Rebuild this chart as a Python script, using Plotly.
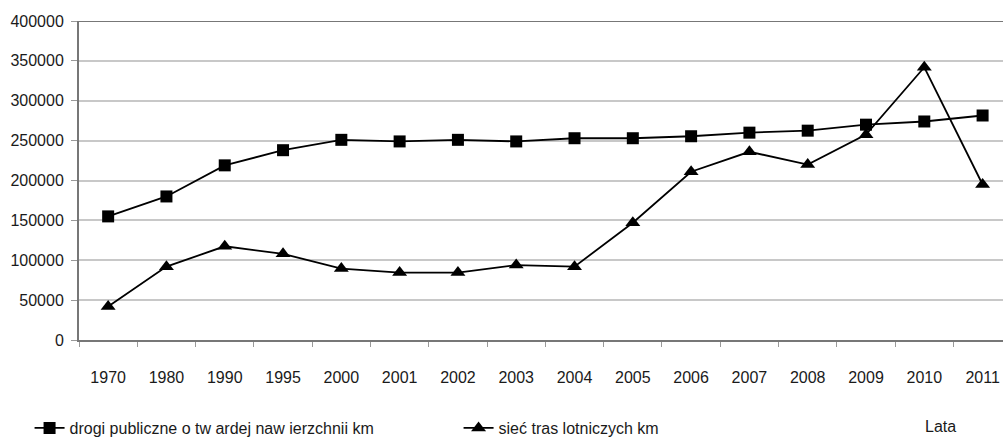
import plotly.graph_objects as go

years = ["1970", "1980", "1990", "1995", "2000", "2001", "2002", "2003",
         "2004", "2005", "2006", "2007", "2008", "2009", "2010", "2011"]

drogi = [155000, 180000, 219000, 238000, 251000, 249000, 251000, 249000,
         253000, 253000, 255500, 260000, 262500, 270000, 274000, 281500]

lotnicze = [42000, 92000, 117500, 108000, 89500, 84500, 84500, 94000,
            92000, 147000, 211000, 236000, 220000, 257500, 342000, 195000]

FONT = "Liberation Sans, Arial, sans-serif"

fig = go.Figure()

fig.add_trace(go.Scatter(
    x=years, y=drogi, mode="lines+markers",
    name="drogi publiczne o tw ardej naw ierzchnii km",
    line=dict(color="black", width=1.8),
    marker=dict(symbol="square", size=12, color="black"),
))
fig.add_trace(go.Scatter(
    x=years, y=lotnicze, mode="lines+markers",
    name="sieć tras lotniczych km",
    line=dict(color="black", width=1.8),
    marker=dict(symbol="triangle-up", size=13, color="black"),
))

fig.update_layout(
    width=1003, height=445,
    margin=dict(l=79, r=0, t=21, b=96),
    paper_bgcolor="white", plot_bgcolor="white",
    font=dict(family=FONT, size=16, color="#1a1a1a"),
    showlegend=True,
    legend=dict(
        orientation="h", x=-0.0535, y=-0.2226, xanchor="left", yanchor="top",
        font=dict(size=16), entrywidth=384, entrywidthmode="pixels",
        bgcolor="rgba(0,0,0,0)",
    ),
    annotations=[dict(
        text="Lata", xref="paper", yref="paper", x=0.932, y=-0.27,
        xanchor="center", yanchor="middle", showarrow=False,
        font=dict(size=16, family=FONT, color="#1a1a1a"),
    )],
)

fig.update_xaxes(
    type="category", range=[-0.5, 15.35], automargin=False,
    showline=True, linecolor="#777", linewidth=2,
    ticks="outside", tickson="boundaries", ticklen=5, tickcolor="#999",
    ticklabelstandoff=22, showgrid=False,
)
fig.update_yaxes(
    range=[0, 400000], dtick=50000, tickformat="d", automargin=False,
    showline=True, linecolor="#777", linewidth=2,
    showgrid=True, gridcolor="#c8c8c8", gridwidth=1.5,
    ticks="outside", ticklen=6, tickcolor="#999", ticklabelstandoff=4,
    zeroline=False,
)

# top border of the plot area
fig.add_shape(type="line", xref="paper", yref="y", x0=0, x1=1, y0=400000, y1=400000,
              line=dict(color="#777", width=2))

# drop the browser's default body margin so the figure sits at the page corner
fig.write_html("out.html", config={"displayModeBar": False},
               post_script="document.body.style.margin='0';")
